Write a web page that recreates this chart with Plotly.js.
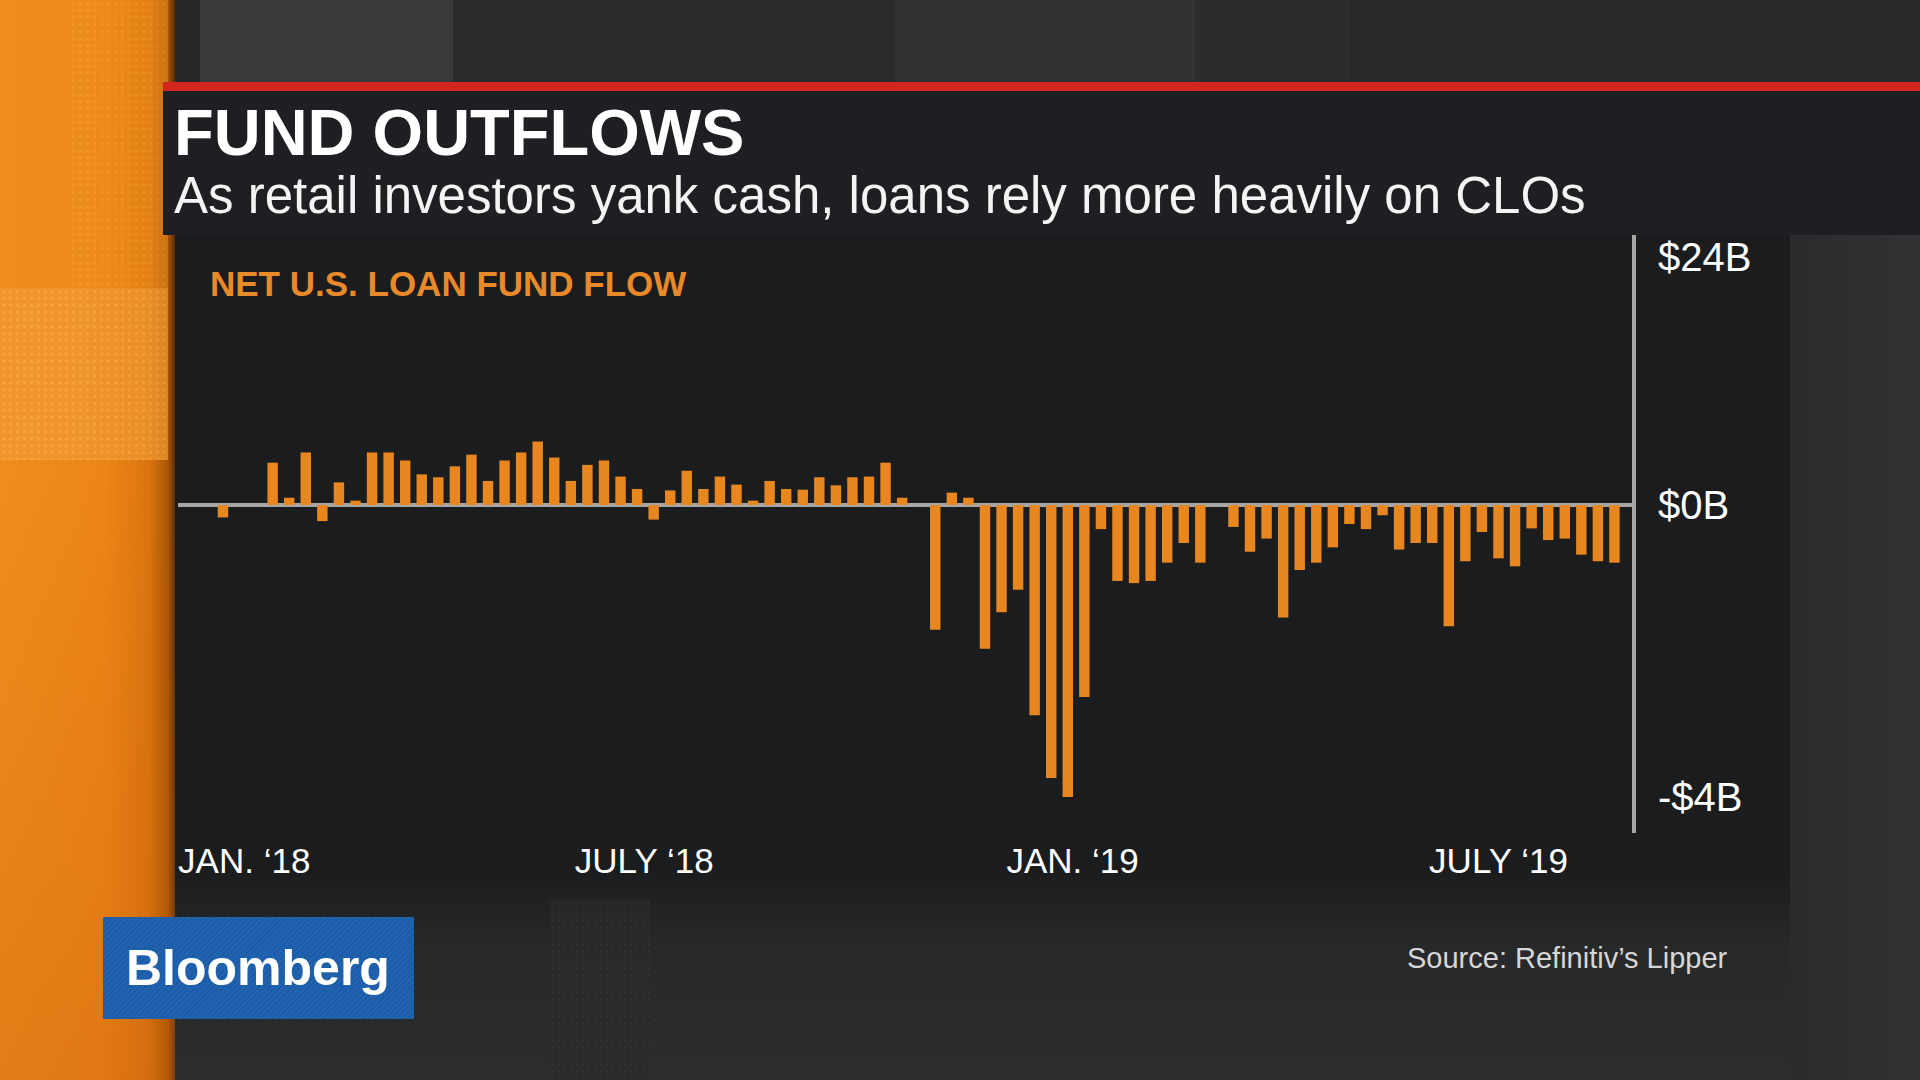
<!DOCTYPE html>
<html>
<head>
<meta charset="utf-8">
<script src="https://cdn.plot.ly/plotly-3.0.1.min.js"></script>
<style>
  html, body { margin:0; padding:0; width:1920px; height:1080px; overflow:hidden; background:#1b1c1e; }
  #bg { position:absolute; left:0; top:0; width:1920px; height:1080px; z-index:0; }
  #bg div { position:absolute; }
  #chart { position:absolute; left:0; top:0; width:1920px; height:1080px; z-index:1; }
</style>
</head>
<body>
<div id="bg">
  <!-- top strip -->
  <div style="left:175px;top:0;width:1745px;height:82px;background:#262728;"></div>
  <div style="left:200px;top:0;width:253px;height:82px;background:#393939;"></div>
  <div style="left:453px;top:0;width:442px;height:82px;background:#2b2b2c;"></div>
  <div style="left:895px;top:0;width:300px;height:82px;background:#323232;"></div>
  <div style="left:1195px;top:0;width:155px;height:82px;background:#2c2c2d;"></div>
  <div style="left:1350px;top:0;width:570px;height:82px;background:#28292a;"></div>
  <!-- left orange strip -->
  <div style="left:0;top:0;width:175px;height:1080px;background:linear-gradient(90deg,#f08d1e 0%,#ec8618 60%,#db750f 85%,#a85608 96%,#5a2e06 100%);"></div>
  <div style="left:0;top:288px;width:168px;height:172px;background:radial-gradient(circle,#f6ae48 35%,#f09a32 36%);background-size:7px 7px;opacity:0.7;"></div>
  <div style="left:70px;top:0;width:98px;height:288px;background:radial-gradient(circle,#f3a030 35%,#ec8e1c 36%);background-size:7px 7px;opacity:0.5;"></div>
  <div style="left:0;top:460px;width:175px;height:620px;background:linear-gradient(180deg,rgba(230,120,15,0.0),rgba(200,95,10,0.35));"></div>
  <!-- right area -->
  <div style="left:1790px;top:235px;width:130px;height:845px;background:linear-gradient(90deg,#2a2b2c,#313233);"></div>
  <!-- bottom area -->
  <div style="left:175px;top:870px;width:1615px;height:210px;background:linear-gradient(180deg,#1b1c1e 0%,#27282a 35%,#2c2d2e 100%);"></div>
  <div style="left:550px;top:900px;width:100px;height:180px;background:radial-gradient(circle,#343435 35%,#2a2a2b 36%);background-size:6px 6px;opacity:0.6;"></div>
  <!-- red line and banner -->
  <div style="left:163px;top:82px;width:1757px;height:9px;background:#d3261d;"></div>
  <div style="left:163px;top:91px;width:1757px;height:144px;background:#1e1f22;"></div>
  <!-- Bloomberg box -->
  <div style="left:103px;top:917px;width:311px;height:102px;background:repeating-linear-gradient(135deg,#2063b0 0px,#2063b0 2px,#1c5aa3 3px,#1c5aa3 4px);"></div>
</div>
<div id="chart"></div>
<script>
// Weekly net U.S. loan fund flow, $ billions
const weeks = [
  '2018-01-07','2018-01-14','2018-01-21','2018-01-28',
  '2018-02-04','2018-02-11','2018-02-18','2018-02-25',
  '2018-03-04','2018-03-11','2018-03-18','2018-03-25',
  '2018-04-01','2018-04-08','2018-04-15','2018-04-22','2018-04-29',
  '2018-05-06','2018-05-13','2018-05-20','2018-05-27',
  '2018-06-03','2018-06-10','2018-06-17','2018-06-24',
  '2018-07-01','2018-07-08','2018-07-15','2018-07-22','2018-07-29',
  '2018-08-05','2018-08-12','2018-08-19','2018-08-26',
  '2018-09-02','2018-09-09','2018-09-16','2018-09-23','2018-09-30',
  '2018-10-07','2018-10-14','2018-10-21','2018-10-28',
  '2018-11-04','2018-11-11','2018-11-18','2018-11-25',
  '2018-12-02','2018-12-09','2018-12-16','2018-12-23','2018-12-30',
  '2019-01-06','2019-01-13','2019-01-20','2019-01-27',
  '2019-02-03','2019-02-10','2019-02-17','2019-02-24',
  '2019-03-03','2019-03-10','2019-03-17','2019-03-24','2019-03-31',
  '2019-04-07','2019-04-14','2019-04-21','2019-04-28',
  '2019-05-05','2019-05-12','2019-05-19','2019-05-26',
  '2019-06-02','2019-06-09','2019-06-16','2019-06-23','2019-06-30',
  '2019-07-07','2019-07-14','2019-07-21','2019-07-28',
  '2019-08-04','2019-08-11','2019-08-18'
];
const flows = [
  -0.17, 0, 0, 0.58,
  0.10, 0.72, -0.22, 0.31,
  0.06, 0.72, 0.72, 0.61,
  0.42, 0.38, 0.53, 0.69, 0.33,
  0.61, 0.72, 0.87, 0.65,
  0.33, 0.55, 0.61, 0.39,
  0.22, -0.20, 0.20, 0.47, 0.22,
  0.39, 0.28, 0.06, 0.33,
  0.22, 0.21, 0.38, 0.27, 0.38,
  0.39, 0.58, 0.10, 0,
  -1.71, 0.17, 0.10, -1.97,
  -1.47, -1.16, -2.88, -3.74, -4.00,
  -2.63, -0.33, -1.04, -1.07,
  -1.04, -0.79, -0.52, -0.79,
  0, -0.30, -0.64, -0.46, -1.54,
  -0.89, -0.79, -0.58, -0.26,
  -0.33, -0.14, -0.61, -0.52,
  -0.52, -1.66, -0.77, -0.37, -0.73,
  -0.84, -0.32, -0.48, -0.46,
  -0.68, -0.77, -0.79
];
const xTickVals = ['2018-01-16','2018-07-04','2019-01-01','2019-06-30'];
const xTickText = ['JAN. \u201818','JULY \u201818','JAN. \u201819','JULY \u201819'];
const yTickVals = [3.4, 0, -4];
const yTickText = ['$24B','$0B','-$4B'];

const L = 178, R = 1632, T = 235, B = 833;
const W = R - L, H = B - T;
const px = v => (v - L) / W;
const py = v => (B - v) / H;
const FONT = '"Liberation Sans", Arial, sans-serif';

const trace = {
  type: 'bar',
  x: weeks,
  y: flows,
  marker: { color: '#e8871f', line: { width: 0 } },
  hoverinfo: 'x+y'
};

const layout = {
  width: 1920, height: 1080,
  margin: { l: L, r: 1920 - R, t: T, b: 1080 - B, pad: 0 },
  paper_bgcolor: 'rgba(0,0,0,0)',
  plot_bgcolor: 'rgba(0,0,0,0)',
  showlegend: false,
  bargap: 0.37,
  font: { family: FONT, color: '#ffffff' },
  xaxis: {
    type: 'date',
    range: ['2017-12-19', '2019-08-25 10:00'],
    tickvals: xTickVals,
    ticktext: xTickText,
    ticks: '',
    showgrid: false,
    zeroline: false,
    showline: false,
    tickfont: { family: FONT, size: 35, color: '#ffffff' },
    ticklabelstandoff: 4,
    fixedrange: true
  },
  yaxis: {
    side: 'right',
    range: [-4.493, 3.699],
    tickvals: yTickVals,
    ticktext: yTickText,
    ticks: '',
    showgrid: false,
    zeroline: true,
    zerolinecolor: '#a6a6a6',
    zerolinewidth: 4,
    showline: true,
    linecolor: '#a6a6a6',
    linewidth: 4,
    tickfont: { family: FONT, size: 40, color: '#ffffff' },
    ticklabelstandoff: 14,
    fixedrange: true
  },
  annotations: [
    { xref:'paper', yref:'paper', x: px(172), y: py(132), xanchor:'left', yanchor:'middle', showarrow:false,
      text:'<b>FUND OUTFLOWS</b>', font:{ family: FONT, size: 65, color:'#ffffff' } },
    { xref:'paper', yref:'paper', x: px(172), y: py(195), xanchor:'left', yanchor:'middle', showarrow:false,
      text:'As retail investors yank cash, loans rely more heavily on CLOs', font:{ family: FONT, size: 51, color:'#f4f4f4' } },
    { xref:'paper', yref:'paper', x: px(208), y: py(284), xanchor:'left', yanchor:'middle', showarrow:false,
      text:'<b>NET U.S. LOAN FUND FLOW</b>', font:{ family: FONT, size: 35, color:'#e8892a' } },
    { xref:'paper', yref:'paper', x: px(1405), y: py(958), xanchor:'left', yanchor:'middle', showarrow:false,
      text:'Source: Refinitiv\u2019s Lipper', font:{ family: FONT, size: 29, color:'#d6d6d6' } },
    { xref:'paper', yref:'paper', x: px(258), y: py(968), xanchor:'center', yanchor:'middle', showarrow:false,
      text:'<b>Bloomberg</b>', font:{ family: FONT, size: 50, color:'#ffffff' } }
  ]
};

Plotly.newPlot('chart', [trace], layout, { displayModeBar: false, staticPlot: true });
</script>
</body>
</html>
